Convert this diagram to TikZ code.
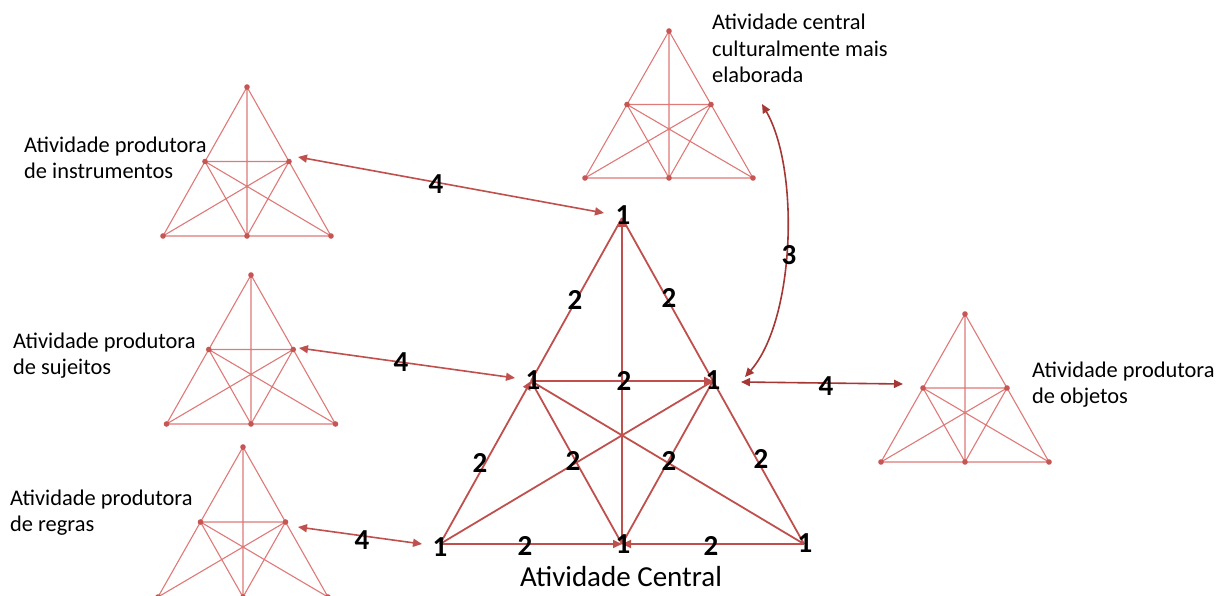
\documentclass[tikz,border=0pt]{standalone}
\usepackage{fontspec}
\setmainfont{Carlito}
\usetikzlibrary{arrows.meta,calc}
\definecolor{mainred}{RGB}{192,80,77}
\definecolor{lightred}{RGB}{222,122,120}
\definecolor{darkred}{RGB}{165,55,52}
\newcommand\trifig[5]{%
  \coordinate (#1t) at (#2,-#3);
  \coordinate (#1l) at ({#2-#4},{-#3-#5});
  \coordinate (#1r) at ({#2+#4},{-#3-#5});
  \coordinate (#1b) at (#2,{-#3-#5});
  \coordinate (#1ml) at ($(#1t)!0.5!(#1l)$);
  \coordinate (#1mr) at ($(#1t)!0.5!(#1r)$);
  \draw[smallline] (#1t)--(#1l)--(#1r)--cycle (#1t)--(#1b) (#1ml)--(#1mr)
    (#1ml)--(#1r) (#1mr)--(#1l) (#1ml)--(#1b) (#1mr)--(#1b);
  \foreach \p in {t,l,r,b,ml,mr} \fill[smalldot] (#1\p) circle (2.8);
}
\begin{document}
\begin{tikzpicture}[x=1pt,y=1pt,
  smallline/.style={draw=lightred, line width=1.1pt},
  smalldot/.style={fill=mainred!85!lightred},
  mainline/.style={draw=mainred, line width=1.8pt},
  endtip/.style={-{Triangle[length=9pt,width=8pt]}},
  dbl/.style={{Triangle[length=9pt,width=8pt]}-{Triangle[length=9pt,width=8pt]}, line width=1.6pt, draw=mainred},
  dbldark/.style={dbl, draw=darkred},
  num/.style={font=\fontsize{29}{29}\selectfont\bfseries, inner sep=0pt},
  lbl/.style={font=\fontsize{22.4}{26.5}\selectfont, align=left, anchor=west, inner sep=0pt}]
\useasboundingbox (0,0) rectangle (1216,-596);
\fill[white] (0,0) rectangle (1216,-596);

% small triangles
\trifig{A}{247}{87}{84}{149}
\trifig{B}{251}{275}{84.5}{149}
\trifig{C}{243}{447}{85}{150}
\trifig{D}{669}{31}{84}{147}
\trifig{E}{965}{314}{84}{148}

% main triangle
\coordinate (T) at (622,-218);
\coordinate (BL) at (440,-544);
\coordinate (BR) at (804,-544);
\coordinate (BM) at (622,-544);
\coordinate (ML) at ($(T)!0.5!(BL)$);
\coordinate (MR) at ($(T)!0.5!(BR)$);
\draw[mainline] (T)--(ML) (T)--(MR) (MR)--(BR)
  (ML)--(BR) (MR)--(BL) (ML)--(BM) (MR)--(BM);
\draw[mainline,endtip] (BM)--(T);
\draw[mainline,endtip] (BL)--(ML);
\draw[mainline,endtip] (ML)--(MR);
\draw[mainline,endtip] (BL)--(BM);
\draw[mainline,endtip] (BR)--(BM);

% connectors
\coordinate (a1s) at (298,-157); \coordinate (a1e) at (604,-213);
\coordinate (a2s) at (299,-348); \coordinate (a2e) at (515,-378);
\coordinate (a3s) at (298,-527); \coordinate (a3e) at (422,-544);
\coordinate (a4s) at (741,-382); \coordinate (a4e) at (903,-384);
\coordinate (c3s) at (762,-104); \coordinate (c3e) at (745,-377);
\draw[dbl] (a1s) -- (a1e);
\draw[dbl] (a2s) -- (a2e);
\draw[dbl] (a3s) -- (a3e);
\draw[dbldark] (a4s) -- (a4e);
\draw[dbldark] (c3s) .. controls (800,-170) and (795,-320) .. (c3e);

% vertex numbers
\node[num] (n1t) at (623,-215) {1};
\node[num] (n1ml) at (533,-380) {1};
\node[num] (n1mr) at (713,-380) {1};
\node[num] (n1bl) at (440,-547) {1};
\node[num] (n1bm) at (623,-544) {1};
\node[num] (n1br) at (805,-543) {1};
% edge numbers
\node[num] (n2a) at (575,-300) {2};
\node[num] (n2b) at (669,-298) {2};
\node[num] (n2c) at (624,-381) {2};
\node[num] (n2d) at (480,-463) {2};
\node[num] (n2e) at (573,-461) {2};
\node[num] (n2f) at (669,-461) {2};
\node[num] (n2g) at (761,-459) {2};
\node[num] (n2h) at (525,-546) {2};
\node[num] (n2i) at (711,-546) {2};
% connector numbers
\node[num] (n4a) at (436,-184) {4};
\node[num] (n4b) at (401,-362) {4};
\node[num] (n4c) at (362,-540) {4};
\node[num] (n4d) at (826,-386) {4};
\node[num] (n3) at (789,-255) {3};

% labels
\node[lbl] (l1) at (24,-158) {Atividade produtora\\de instrumentos};
\node[lbl] (l2) at (13,-355.5) {Atividade produtora\\de sujeitos};
\node[lbl] (l3) at (10,-512.5) {Atividade produtora\\de regras};
\node[lbl] (l4) at (712,-48.5) {Atividade central\\culturalmente mais\\elaborada};
\node[lbl] (l5) at (1032,-384.5) {Atividade produtora\\de objetos};
\node[font=\fontsize{29}{29}\selectfont, inner sep=0pt] (lc) at (621,-577) {Atividade Central};
\end{tikzpicture}
\end{document}
